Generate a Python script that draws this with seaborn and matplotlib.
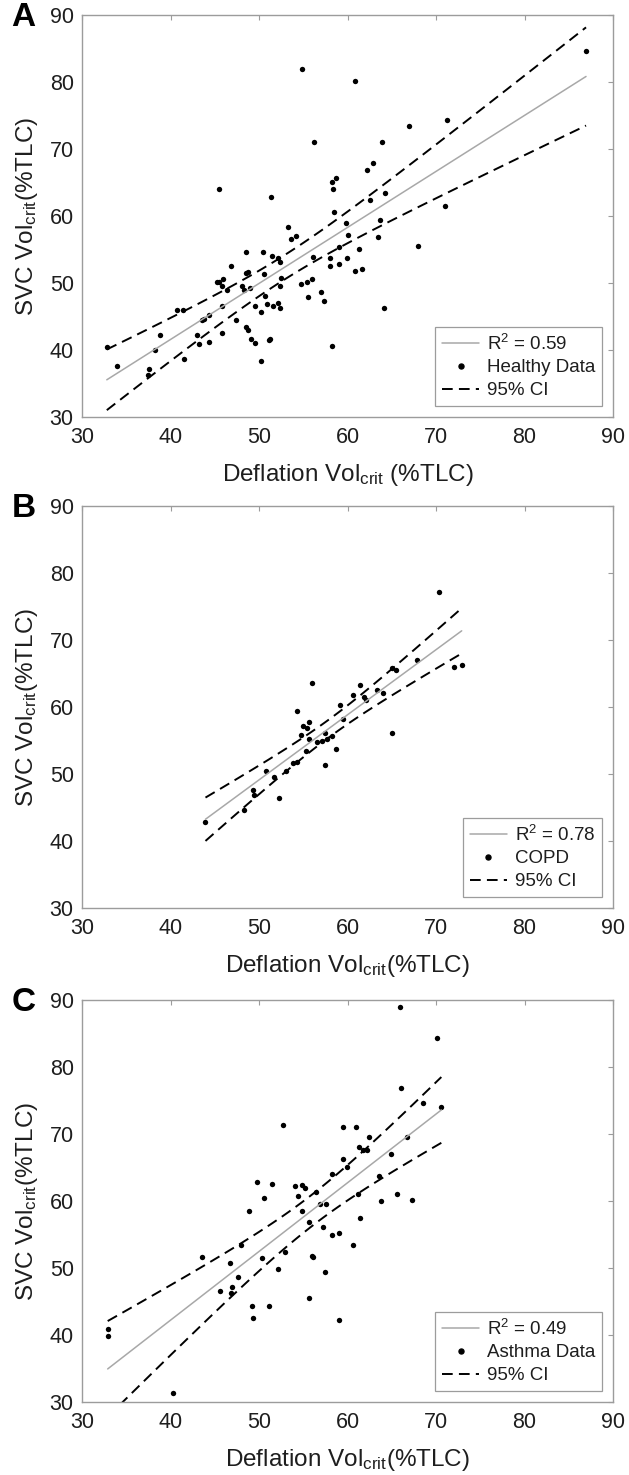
import numpy as np
import pandas as pd
import seaborn as sns
import matplotlib.pyplot as plt
from matplotlib.lines import Line2D

# values
healthy_x = [54.8, 56.2, 45.5, 51.4, 58.25, 58.7, 58.4, 58.5, 60.9, 86.95, 71.2, 66.9, 63.9, 62.9,
             62.2, 62.5, 64.2, 71.0, 63.7, 59.8, 60.1, 63.4, 68.0, 59.0, 59.9, 61.3, 59.0, 60.8,
             61.6, 64.1, 58.25, 32.8, 34.0, 37.4, 37.6, 38.2, 38.8, 40.7, 41.4, 41.5, 43.0, 43.2,
             43.6, 43.8, 44.4, 44.4, 45.3, 45.5, 45.8, 45.95, 45.8, 45.8, 46.4, 46.8, 47.35, 48.1,
             48.3, 48.5, 48.5, 48.7, 48.5, 48.8, 49.0, 49.1, 49.6, 49.6, 50.2, 50.2, 50.5, 50.6,
             50.65, 50.95, 51.1, 51.2, 51.45, 51.6, 52.2, 52.35, 52.2, 52.35, 52.35, 52.5, 53.3,
             53.6, 54.15, 54.7, 55.4, 55.5, 56.0, 56.1, 57.0, 57.35, 58.0, 58.0]
healthy_y = [81.9, 71.0, 64.1, 62.8, 65.1, 65.7, 64.0, 60.6, 80.1, 84.6, 74.4, 73.4, 71.0, 67.9,
             66.9, 62.4, 63.5, 61.5, 59.4, 58.9, 57.2, 56.9, 55.5, 55.4, 53.7, 55.1, 52.8, 51.8,
             52.05, 46.3, 40.6, 40.5, 37.6, 36.2, 37.2, 40.0, 42.3, 46.0, 45.9, 38.7, 42.2, 40.9,
             44.5, 44.6, 45.2, 41.2, 50.1, 50.2, 49.55, 50.6, 46.5, 42.6, 48.9, 52.6, 44.5, 49.55,
             49.0, 54.7, 51.45, 51.6, 43.5, 43.0, 49.2, 41.6, 41.0, 46.6, 38.3, 45.6, 54.7, 51.4,
             48.1, 46.8, 41.5, 41.7, 54.1, 46.6, 47.0, 46.2, 53.7, 53.2, 49.55, 50.8, 58.3,
             56.6, 57.0, 49.85, 50.1, 47.9, 50.6, 53.9, 48.7, 47.3, 53.7, 52.6]

copd_x = [43.95, 48.25, 49.3, 49.4, 50.8, 51.7, 52.3, 53.0, 53.8, 54.3, 54.3, 54.7, 55.0, 55.3,
          55.45, 55.6, 55.6, 56.0, 56.5, 57.1, 57.4, 57.45, 57.7, 58.2, 58.7, 59.2, 59.5, 60.6,
          61.4, 61.9, 62.1, 63.3, 64.05, 65.0, 65.45, 65.05, 67.8, 70.3, 72.0, 72.9]
copd_y = [42.8, 44.7, 47.65, 46.9, 50.4, 49.6, 46.4, 50.5, 51.7, 51.8, 59.4, 55.8, 57.2, 53.4,
          56.85, 57.75, 55.2, 63.55, 54.75, 55.0, 56.1, 51.3, 55.2, 55.7, 53.8, 60.3, 58.2, 61.8,
          63.3, 61.55, 61.0, 62.6, 62.1, 65.9, 65.55, 56.1, 67.0, 77.1, 66.0, 66.35]

asthma_x = [52.7, 49.75, 50.6, 51.5, 54.1, 54.4, 54.9, 55.2, 56.4, 56.9, 57.6, 58.2, 65.9, 70.1,
            66.0, 68.5, 70.6, 59.5, 61.0, 62.4, 61.3, 61.7, 62.2, 66.7, 64.9, 59.5, 59.9, 63.6,
            61.2, 63.8, 65.6, 67.3, 61.45, 58.2, 59.0, 60.6, 59.0, 32.9, 32.9, 40.3, 43.6, 45.6,
            46.7, 46.8, 47.0, 47.6, 48.0, 48.85, 49.2, 49.3, 50.35, 51.1, 52.2, 52.9, 54.8, 55.65,
            55.65, 56.0, 56.1, 57.2, 57.4]
asthma_y = [71.4, 62.8, 60.5, 62.5, 62.3, 60.7, 62.4, 62.0, 61.4, 59.6, 59.5, 64.1, 88.9, 84.4,
            76.9, 74.7, 74.1, 71.0, 71.0, 69.6, 68.0, 67.6, 67.6, 69.5, 67.0, 66.3, 65.1, 63.8,
            61.0, 60.0, 61.0, 60.1, 57.4, 55.0, 55.2, 53.5, 42.2, 40.9, 39.8, 31.4, 51.6, 46.6,
            50.8, 46.3, 47.2, 48.7, 53.4, 58.5, 44.3, 42.6, 51.5, 44.4, 49.9, 52.4, 58.5, 56.8,
            45.5, 51.8, 51.7, 56.1, 49.4]

panel_letters = ["A", "B", "C"]
group_names = ["Healthy Data", "COPD", "Asthma Data"]
r2_text = ["0.59", "0.78", "0.49"]
xlabels = ["Deflation Vol$_{crit}$ (%TLC)", "Deflation Vol$_{crit}$(%TLC)", "Deflation Vol$_{crit}$(%TLC)"]
ylabel = "SVC Vol$_{crit}$(%TLC)"
ticks = [30, 40, 50, 60, 70, 80, 90]

sns.set_theme(style="white")
plt.rcParams["font.family"] = ["Liberation Sans", "DejaVu Sans"]
plt.rcParams["mathtext.default"] = "regular"

grey = "#9c9c9c"
txt = "#1e1e1e"
dash = [5.5, 3.2]

fig = plt.figure(figsize=(6.29, 14.75), dpi=100)
bottoms = [0.7173, 0.3844, 0.0495]
datasets = [(healthy_x, healthy_y), (copd_x, copd_y), (asthma_x, asthma_y)]

for i, (xs, ys) in enumerate(datasets):
    ax = fig.add_axes([0.1304, bottoms[i], 0.8442, 0.2725])
    df = pd.DataFrame({"x": xs, "y": ys})

    # linear fit with simultaneous 95% confidence band
    x = df["x"].to_numpy()
    y = df["y"].to_numpy()
    n = len(x)
    b1, b0 = np.polyfit(x, y, 1)
    s = np.sqrt(np.sum((y - (b0 + b1 * x)) ** 2) / (n - 2))
    sxx = np.sum((x - x.mean()) ** 2)
    xl = np.linspace(x.min(), x.max(), 100)
    yl = b0 + b1 * xl
    half = 2.5 * s * np.sqrt(1 / n + (xl - x.mean()) ** 2 / sxx)
    fit = pd.DataFrame({"x": xl, "fit": yl, "lo": yl - half, "hi": yl + half})

    sns.lineplot(data=fit, x="x", y="fit", ax=ax, color="#a8a8a8", lw=1.1)
    sns.lineplot(data=fit, x="x", y="hi", ax=ax, color="black", lw=1.4)
    sns.lineplot(data=fit, x="x", y="lo", ax=ax, color="black", lw=1.4)
    for ln in ax.lines[1:]:
        ln.set_dashes(dash)
    sns.scatterplot(data=df, x="x", y="y", ax=ax, color="black", s=15, linewidth=0)

    ax.set_xlim(30, 90)
    ax.set_ylim(30, 90)
    ax.set_xticks(ticks)
    ax.set_yticks(ticks)
    ax.tick_params(direction="in", length=3.5, width=0.8, color=grey, top=True, right=True,
                   labelsize=15.5, labelcolor=txt)
    ax.tick_params(axis="x", pad=7)
    ax.tick_params(axis="y", pad=6)
    for sp in ax.spines.values():
        sp.set_color(grey)
        sp.set_linewidth(1.0)
    ax.set_xlabel(xlabels[i], fontsize=17.5, color=txt, labelpad=10)
    ax.set_ylabel(ylabel, fontsize=17.5, color=txt, labelpad=7)

    handles = [
        Line2D([], [], color="#a8a8a8", lw=1.1),
        Line2D([], [], color="black", marker="o", ms=3.6, ls="none"),
        Line2D([], [], color="black", lw=1.4, dashes=dash),
    ]
    labels = ["R$^2$ = " + r2_text[i], group_names[i], "95% CI"]
    leg = ax.legend(handles, labels, loc="lower right", fontsize=13.5, frameon=True, fancybox=False,
                    framealpha=1, edgecolor=grey, handlelength=2.0, handletextpad=0.4,
                    labelspacing=0.3, borderpad=0.35, borderaxespad=0.6)
    leg.get_frame().set_linewidth(0.9)
    for t in leg.get_texts():
        t.set_color(txt)

    fig.text(0.018, bottoms[i] + 0.2725 + 0.009, panel_letters[i], fontsize=24,
             fontweight="bold", color="black", va="top", ha="left")

fig.savefig("out.png", dpi=100, facecolor="white")
